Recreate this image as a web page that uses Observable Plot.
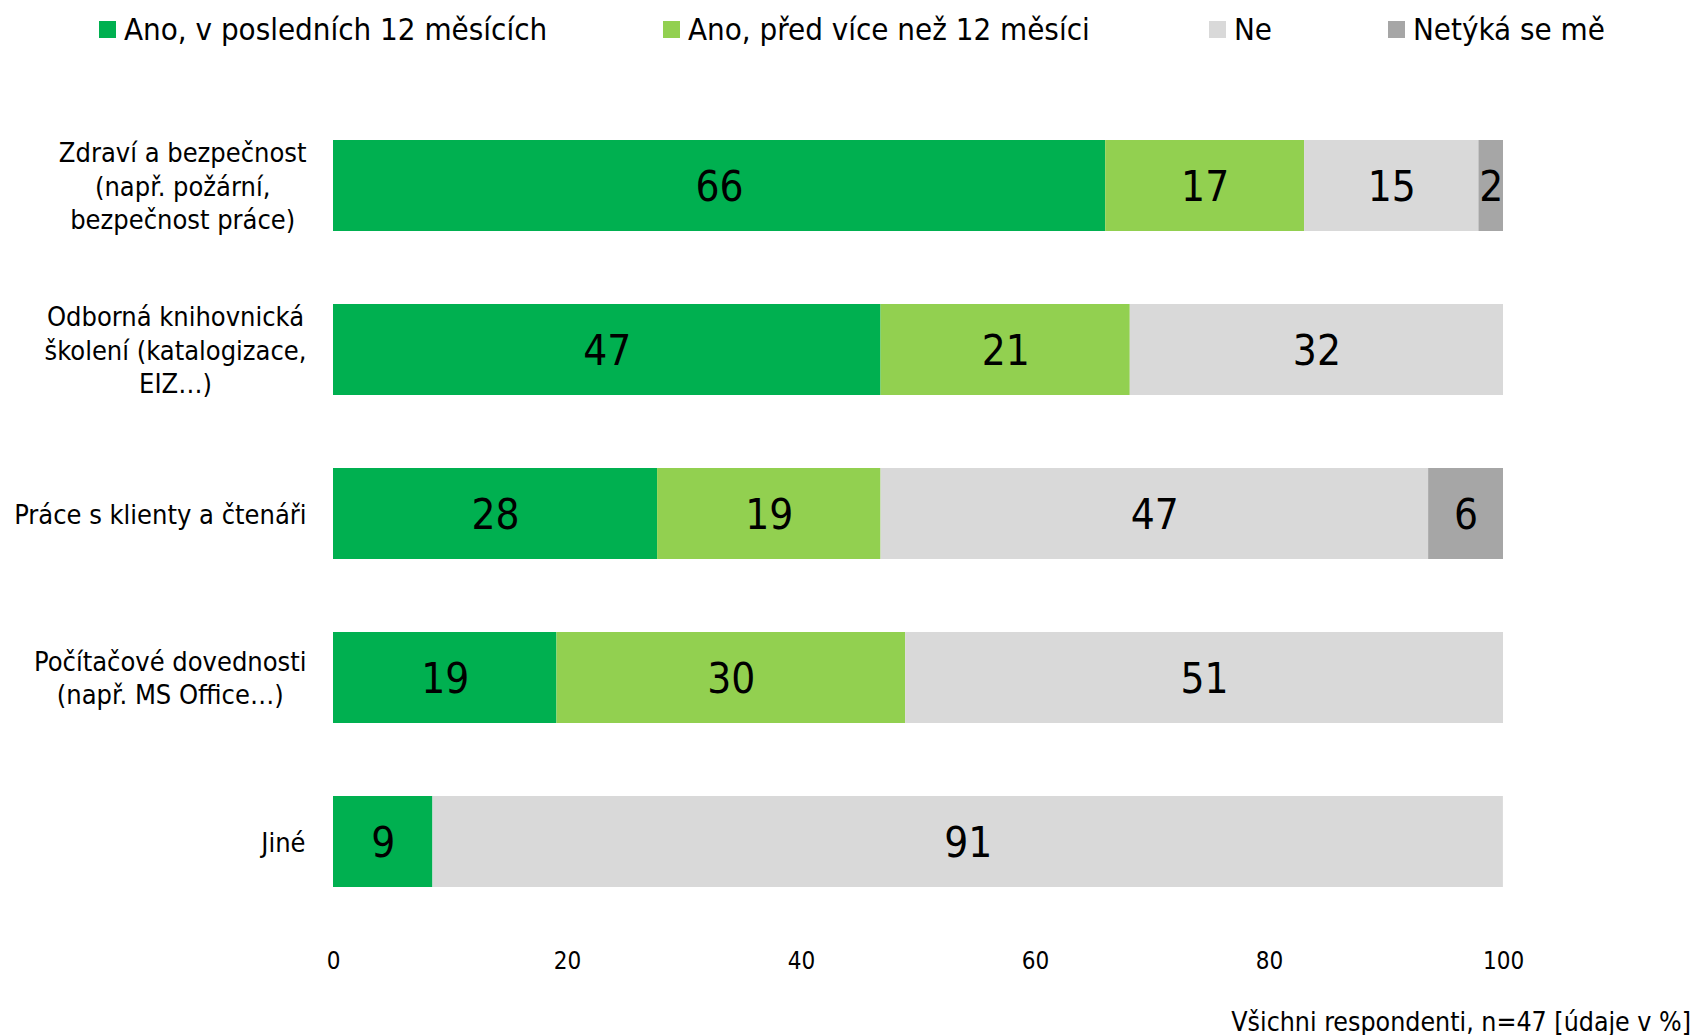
<!DOCTYPE html>
<html>
<head>
<meta charset="utf-8">
<script src="https://cdn.jsdelivr.net/npm/d3@7"></script>
<script src="https://cdn.jsdelivr.net/npm/@observablehq/plot@0.6"></script>
<style>
  body { margin: 0; background: #fff; font-family: "DejaVu Sans Condensed", "DejaVu Sans", sans-serif; font-stretch: condensed; }
  #wrap { position: relative; width: 1694px; height: 1035px; }
  #legend { position: relative; height: 58px; }
  .item { position: absolute; top: 11px; display: flex; align-items: center; font-size: 31px; color: #000; white-space: nowrap; }
  .sw { width: 17px; height: 17px; margin-right: 8px; }
  #caption { position: absolute; right: 3px; top: 1006px; font-size: 26.5px; color: #000; white-space: nowrap; }
  svg { display: block; font-family: "DejaVu Sans Condensed", "DejaVu Sans", sans-serif; font-stretch: condensed; }
</style>
</head>
<body>
<div id="wrap">
  <div id="legend"></div>
  <div id="chart"></div>
  <div id="caption"></div>
</div>
<script>
const categories = [
  "Zdraví a bezpečnost\n(např. požární,\nbezpečnost práce)",
  "Odborná knihovnická\nškolení (katalogizace,\nEIZ…)",
  "Práce s klienty a čtenáři",
  "Počítačové dovednosti\n(např. MS Office…)",
  "Jiné"
];
const seriesNames = ["Ano, v posledních 12 měsících", "Ano, před více než 12 měsíci", "Ne", "Netýká se mě"];
const seriesColors = ["#00B050", "#92D050", "#D9D9D9", "#A6A6A6"];
// percentages (labels show them rounded)
const recent = [66.0, 46.8, 27.7, 19.1, 8.5];
const earlier = [17.0, 21.3, 19.1, 29.8, 0];
const no = [14.9, 31.9, 46.8, 51.1, 91.49];
const notApplicable = [2.1, 0, 6.4, 0, 0];
const xTicks = [0, 20, 40, 60, 80, 100];
const captionText = "Všichni respondenti, n=47 [údaje v %]";

const seriesValues = [recent, earlier, no, notApplicable];
const data = [];
categories.forEach((c, i) => {
  seriesNames.forEach((s, j) => {
    data.push({category: c, series: s, value: seriesValues[j][i]});
  });
});

// legend
const legendLefts = [99, 663, 1209, 1388];
const legend = document.getElementById("legend");
seriesNames.forEach((s, j) => {
  const it = document.createElement("div");
  it.className = "item";
  it.style.left = legendLefts[j] + "px";
  const sw = document.createElement("div");
  sw.className = "sw";
  sw.style.background = seriesColors[j];
  const tx = document.createElement("span");
  tx.textContent = s;
  it.appendChild(sw);
  it.appendChild(tx);
  legend.appendChild(it);
});
document.getElementById("caption").textContent = captionText;

const chart = Plot.plot({
  width: 1694,
  height: 942,
  marginLeft: 333,
  marginRight: 191,
  marginTop: 32,
  marginBottom: 63,
  style: {fontSize: "26px", color: "#000", background: "#fff"},
  x: {domain: [0, 100], ticks: xTicks},
  y: {domain: categories, paddingInner: 0.447, paddingOuter: 0.3},
  color: {domain: seriesNames, range: seriesColors},
  marks: [
    Plot.barX(data, Plot.stackX({x: "value", y: "category", fill: "series", z: "series", order: seriesNames})),
    Plot.textX(data.filter(d => d.value > 0), Plot.stackX({
      x: "value", y: "category", z: "series", text: d => String(Math.round(d.value)), order: seriesNames,
      fontSize: 42, fill: "#000", dy: 2
    })),
    Plot.axisY({tickSize: 0, tickPadding: 27, fontSize: 27, lineHeight: 1.24, dy: -1, label: null}),
    Plot.axisX({ticks: xTicks, tickSize: 0, tickPadding: 14, fontSize: 24, label: null})
  ]
});
document.getElementById("chart").appendChild(chart);

// center the lines of each multi-line category label within its right-aligned block
chart.querySelectorAll('g[aria-label="y-axis tick label"] text').forEach(t => {
  const b = t.getBBox();
  const cx = b.x + b.width / 2;
  t.setAttribute("text-anchor", "middle");
  const tr = t.getAttribute("transform") || "";
  t.setAttribute("transform", tr + ` translate(${cx},0)`);
});
</script>
</body>
</html>
